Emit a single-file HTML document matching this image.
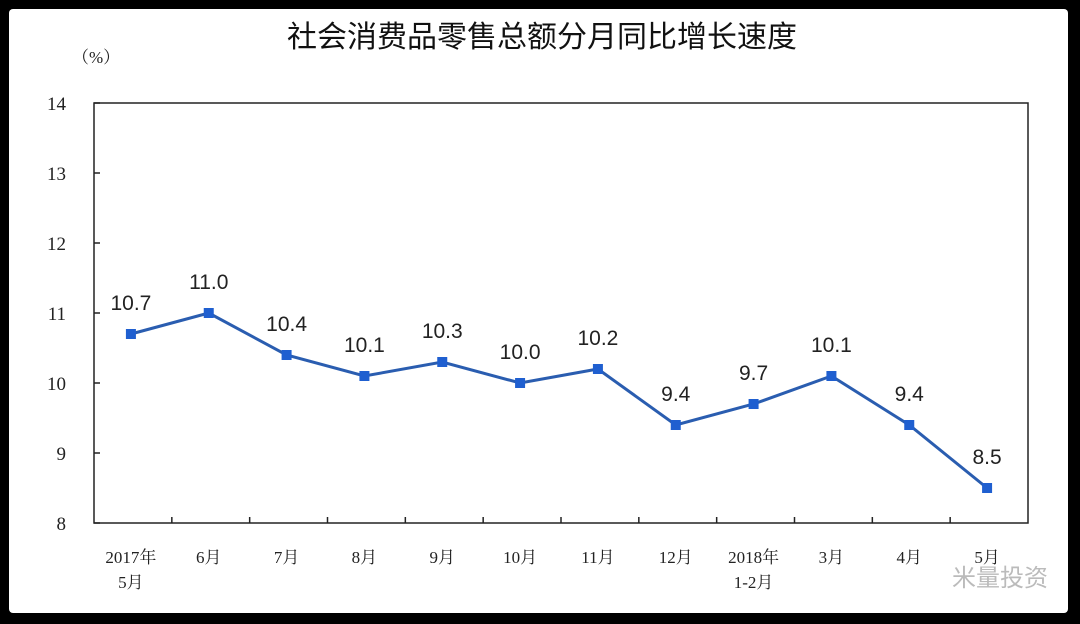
<!DOCTYPE html>
<html><head><meta charset="utf-8"><style>
html,body{margin:0;padding:0;background:#000;}
body{width:1080px;height:624px;overflow:hidden;position:relative;}
#card{position:absolute;left:9px;top:9px;width:1059px;height:604px;background:#fff;border-radius:4px;}
svg{position:absolute;left:0;top:0;}
</style></head><body>
<div id="card"></div>
<svg width="1080" height="624" id="chart">
<text x="542" y="47" text-anchor="middle" font-family="'Liberation Sans','Noto Sans CJK SC',sans-serif" font-size="30" fill="#111">社会消费品零售总额分月同比增长速度</text>
<text x="72" y="63" font-family="'Liberation Serif','Noto Serif CJK SC',serif" font-size="17" fill="#222">（%）</text>
<rect x="94" y="103" width="934" height="420" fill="none" stroke="#222" stroke-width="1.5"/>
<g id="g"></g>
<text x="1000" y="586" text-anchor="middle" font-family="'Liberation Sans','Noto Sans CJK SC',sans-serif" font-size="24" fill="#bbb">米量投资</text>
</svg>
<script>
const categories=[["2017年","5月"],["6月"],["7月"],["8月"],["9月"],["10月"],["11月"],["12月"],["2018年","1-2月"],["3月"],["4月"],["5月"]];
const values=[10.7,11.0,10.4,10.1,10.3,10.0,10.2,9.4,9.7,10.1,9.4,8.5];
const yTicks=[8,9,10,11,12,13,14];
const L=94,R=1028,T=103,B=523,yMin=8,yMax=14;
const bw=(R-L)/categories.length;
const xs=i=>L+bw*(i+0.5)-2;
const ys=v=>B-(v-yMin)/(yMax-yMin)*(B-T);
const g=document.getElementById('g');
const NS='http://www.w3.org/2000/svg';
function mk(t,a,txt){const e=document.createElementNS(NS,t);for(const k in a)e.setAttribute(k,a[k]);if(txt!==undefined)e.textContent=txt;g.appendChild(e);return e;}
yTicks.forEach(v=>{
 const y=ys(v);
 const t=mk('line',{x1:L,x2:L+6,y1:y,y2:y,stroke:'#222','stroke-width':1.5});
 
 
 const l=mk('text',{x:L-28,y:y+7,'text-anchor':'end','font-family':"'Liberation Serif',serif",'font-size':19,fill:'#222'},String(v));
 
 
});
for(let i=1;i<categories.length;i++){
 const x=L+bw*i;
 const t=mk('line',{x1:x,x2:x,y1:B,y2:B-6,stroke:'#222','stroke-width':1.5});
 
 
}
categories.forEach((c,i)=>{
 c.forEach((s,j)=>{
  const l=mk('text',{x:xs(i),y:563+j*25,'text-anchor':'middle','font-family':"'Liberation Serif','Noto Serif CJK SC',serif",'font-size':17,fill:'#222'},s);
  
  
 });
});
const pts=values.map((v,i)=>xs(i)+','+ys(v)).join(' ');
const line=mk('polyline',{points:pts,fill:'none',stroke:'#2a5db0','stroke-width':3});


values.forEach((v,i)=>{
 const m=mk('rect',{x:xs(i)-5,y:ys(v)-5,width:10,height:10,fill:'#1f5fd0'});
 
 
 const l=mk('text',{x:xs(i),y:ys(v)-24,'text-anchor':'middle','font-family':"'Liberation Sans',sans-serif",'font-size':21,fill:'#222'},v.toFixed(1));
 
 
});
</script>
</body></html>
